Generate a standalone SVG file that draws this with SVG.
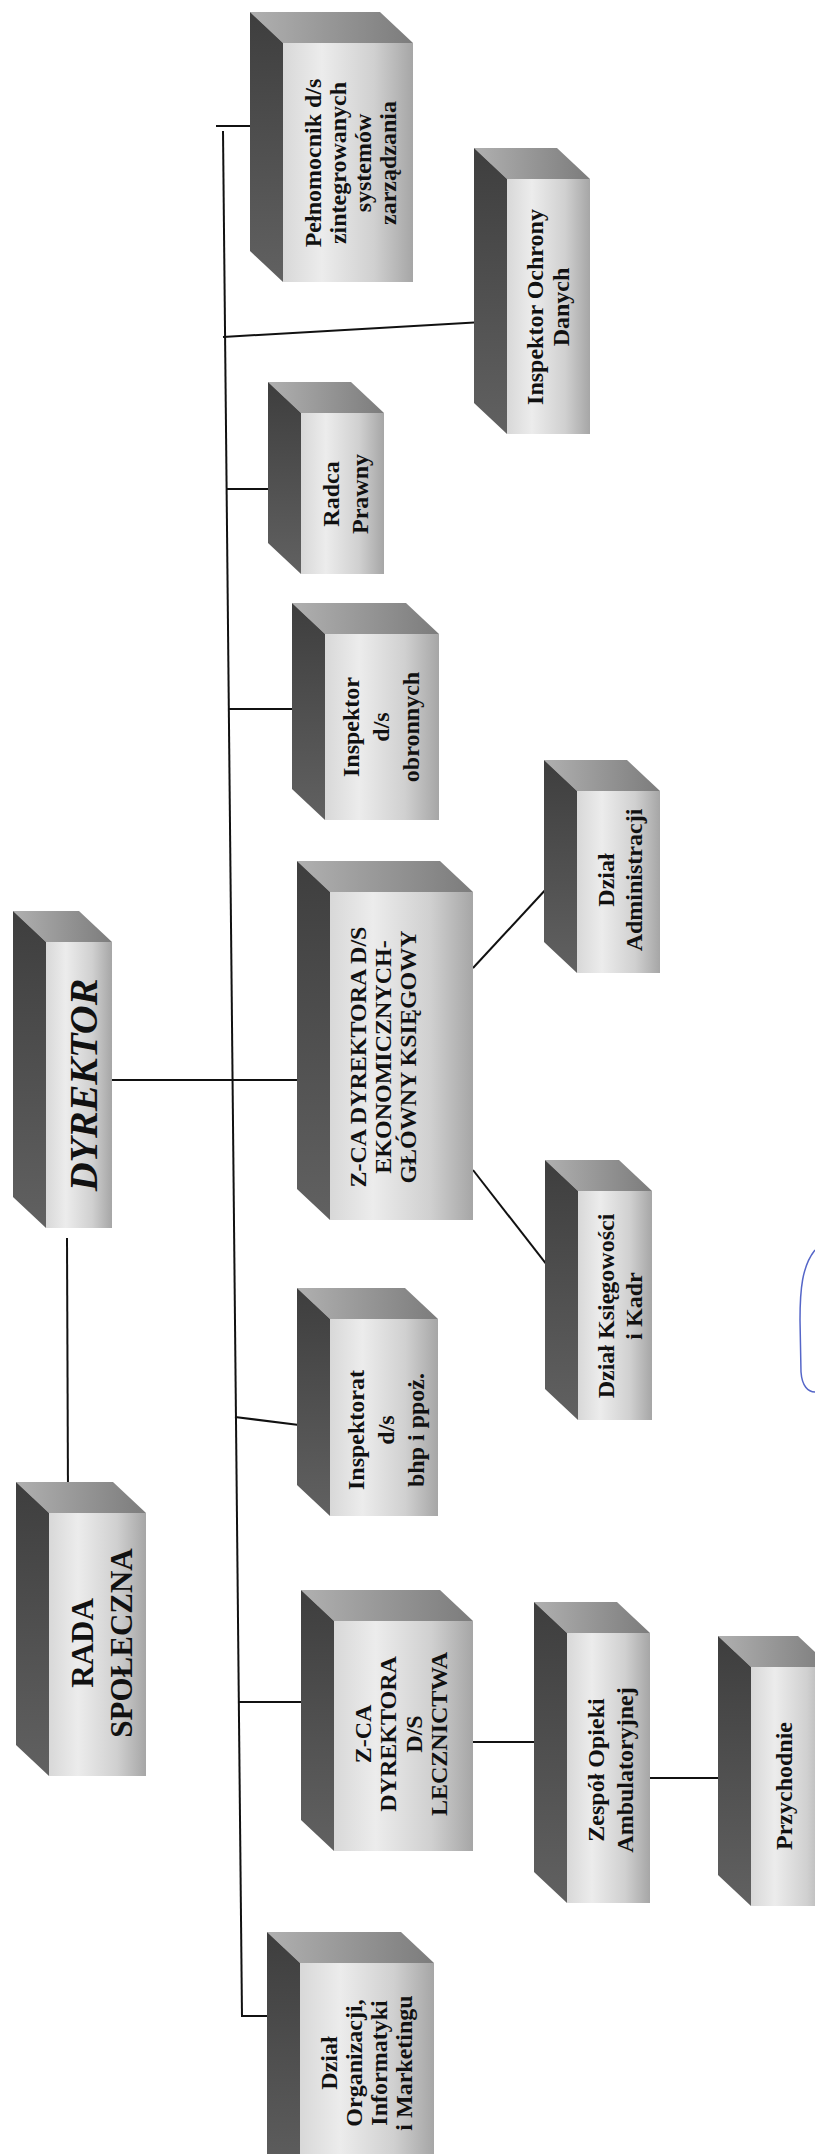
<svg xmlns="http://www.w3.org/2000/svg" width="815" height="2154" viewBox="0 0 815 2154">
<defs>
<linearGradient id="gFront" x1="0" y1="0" x2="1" y2="0">
<stop offset="0" stop-color="#d8d8d8"/>
<stop offset="0.3" stop-color="#ececec"/>
<stop offset="0.7" stop-color="#d0d0d0"/>
<stop offset="1" stop-color="#a6a6a6"/>
</linearGradient>
<linearGradient id="gTop" x1="0" y1="0" x2="1" y2="0">
<stop offset="0" stop-color="#b0b0b0"/>
<stop offset="1" stop-color="#7c7c7c"/>
</linearGradient>
<linearGradient id="gSide" x1="0" y1="0" x2="0" y2="1">
<stop offset="0" stop-color="#3e3e3e"/>
<stop offset="1" stop-color="#616161"/>
</linearGradient>
<style>
.front{fill:url(#gFront)}
.top{fill:url(#gTop)}
.side{fill:url(#gSide)}
.t{font-family:"Liberation Serif","Times New Roman",serif;font-weight:bold;font-size:24px;fill:#111;text-anchor:middle;dominant-baseline:central}
.big{font-size:40px;font-style:italic}
.rada{font-size:31px}
.ln{stroke:#111;stroke-width:2;fill:none}
</style>
</defs>
<rect width="815" height="2154" fill="#ffffff"/>

<g id="connectors">
<line class="ln" x1="223" y1="131" x2="242" y2="2017"/>
<line class="ln" x1="216" y1="126" x2="250" y2="126"/>
<line class="ln" x1="223" y1="337" x2="483" y2="322"/>
<line class="ln" x1="226" y1="489" x2="283" y2="489"/>
<line class="ln" x1="229" y1="709" x2="292" y2="709"/>
<line class="ln" x1="112" y1="1080" x2="299" y2="1080"/>
<line class="ln" x1="473" y1="968" x2="548" y2="887"/>
<line class="ln" x1="473" y1="1170" x2="554" y2="1274"/>
<line class="ln" x1="235" y1="1417" x2="299" y2="1425"/>
<line class="ln" x1="67" y1="1238" x2="68" y2="1498"/>
<line class="ln" x1="239" y1="1702" x2="301" y2="1702"/>
<line class="ln" x1="473" y1="1742" x2="535" y2="1742"/>
<line class="ln" x1="650" y1="1778" x2="720" y2="1778"/>
<line class="ln" x1="242" y1="2016" x2="288" y2="2016"/>
</g>

<g id="pelnomocnik">
<polygon class="top" points="283,43 413,43 380,12 250,12"/>
<polygon class="side" points="283,43 250,12 250,251 283,282"/>
<rect class="front" x="283" y="43" width="130" height="239"/>
<g transform="translate(350,163) rotate(-90)">
<text class="t" x="0" y="-37.5">Pełnomocnik d/s</text>
<text class="t" x="0" y="-12.5">zintegrowanych</text>
<text class="t" x="0" y="12.5">systemów</text>
<text class="t" x="0" y="37.5">zarządzania</text>
</g>
</g>

<g id="inspektor-ochrony">
<polygon class="top" points="507,179 590,179 557,148 474,148"/>
<polygon class="side" points="507,179 474,148 474,403 507,434"/>
<rect class="front" x="507" y="179" width="83" height="255"/>
<g transform="translate(548,307) rotate(-90)">
<text class="t" x="0" y="-13">Inspektor Ochrony</text>
<text class="t" x="0" y="13">Danych</text>
</g>
</g>

<g id="radca">
<polygon class="top" points="301,413 384,413 351,382 268,382"/>
<polygon class="side" points="301,413 268,382 268,543 301,574"/>
<rect class="front" x="301" y="413" width="83" height="161"/>
<g transform="translate(345,494) rotate(-90)">
<text class="t" x="0" y="-14.5">Radca</text>
<text class="t" x="0" y="14.5">Prawny</text>
</g>
</g>

<g id="inspektor-obronnych">
<polygon class="top" points="325,634 439,634 406,603 292,603"/>
<polygon class="side" points="325,634 292,603 292,789 325,820"/>
<rect class="front" x="325" y="634" width="114" height="186"/>
<g transform="translate(381,727) rotate(-90)">
<text class="t" x="0" y="-30">Inspektor</text>
<text class="t" x="0" y="0">d/s</text>
<text class="t" x="0" y="30">obronnych</text>
</g>
</g>

<g id="zca-ekonomicznych">
<polygon class="top" points="330,892 473,892 440,861 297,861"/>
<polygon class="side" points="330,892 297,861 297,1189 330,1220"/>
<rect class="front" x="330" y="892" width="143" height="328"/>
<g transform="translate(383,1057) rotate(-90)">
<text class="t" x="0" y="-25">Z-CA DYREKTORA D/S</text>
<text class="t" x="0" y="0">EKONOMICZNYCH-</text>
<text class="t" x="0" y="25">GŁÓWNY KSIĘGOWY</text>
</g>
</g>

<g id="dyrektor">
<polygon class="top" points="46,942 112,942 79,911 13,911"/>
<polygon class="side" points="46,942 13,911 13,1197 46,1228"/>
<rect class="front" x="46" y="942" width="66" height="286"/>
<g transform="translate(83,1085) rotate(-90)">
<text class="t big" x="0" y="0">DYREKTOR</text>
</g>
</g>

<g id="dzial-administracji">
<polygon class="top" points="577,791 660,791 627,760 544,760"/>
<polygon class="side" points="577,791 544,760 544,942 577,973"/>
<rect class="front" x="577" y="791" width="83" height="182"/>
<g transform="translate(620,880) rotate(-90)">
<text class="t" x="0" y="-14">Dział</text>
<text class="t" x="0" y="14">Administracji</text>
</g>
</g>

<g id="dzial-ksiegowosci">
<polygon class="top" points="578,1191 652,1191 619,1160 545,1160"/>
<polygon class="side" points="578,1191 545,1160 545,1389 578,1420"/>
<rect class="front" x="578" y="1191" width="74" height="229"/>
<g transform="translate(620,1306) rotate(-90)">
<text class="t" x="0" y="-14">Dział Księgowości</text>
<text class="t" x="0" y="14">i Kadr</text>
</g>
</g>

<g id="inspektorat-bhp">
<polygon class="top" points="330,1319 438,1319 405,1288 297,1288"/>
<polygon class="side" points="330,1319 297,1288 297,1485 330,1516"/>
<rect class="front" x="330" y="1319" width="108" height="197"/>
<g transform="translate(386,1430) rotate(-90)">
<text class="t" x="0" y="-30">Inspektorat</text>
<text class="t" x="0" y="0">d/s</text>
<text class="t" x="0" y="30">bhp i ppoż.</text>
</g>
</g>

<g id="rada-spoleczna">
<polygon class="top" points="49,1513 146,1513 113,1482 16,1482"/>
<polygon class="side" points="49,1513 16,1482 16,1745 49,1776"/>
<rect class="front" x="49" y="1513" width="97" height="263"/>
<g transform="translate(102,1643) rotate(-90)">
<text class="t rada" x="0" y="-19.5">RADA</text>
<text class="t rada" x="0" y="19.5">SPOŁECZNA</text>
</g>
</g>

<g id="zca-lecznictwa">
<polygon class="top" points="334,1621 473,1621 440,1590 301,1590"/>
<polygon class="side" points="334,1621 301,1590 301,1820 334,1851"/>
<rect class="front" x="334" y="1621" width="139" height="230"/>
<g transform="translate(401,1734) rotate(-90)">
<text class="t" x="0" y="-38">Z-CA</text>
<text class="t" x="0" y="-13">DYREKTORA</text>
<text class="t" x="0" y="13">D/S</text>
<text class="t" x="0" y="38">LECZNICTWA</text>
</g>
</g>

<g id="zespol-opieki">
<polygon class="top" points="567,1633 650,1633 617,1602 534,1602"/>
<polygon class="side" points="567,1633 534,1602 534,1872 567,1903"/>
<rect class="front" x="567" y="1633" width="83" height="270"/>
<g transform="translate(610,1770) rotate(-90)">
<text class="t" x="0" y="-14.5">Zespół Opieki</text>
<text class="t" x="0" y="14.5">Ambulatoryjnej</text>
</g>
</g>

<g id="przychodnie">
<polygon class="top" points="751,1667 831,1667 798,1636 718,1636"/>
<polygon class="side" points="751,1667 718,1636 718,1875 751,1906"/>
<rect class="front" x="751" y="1667" width="80" height="239"/>
<g transform="translate(784,1786) rotate(-90)">
<text class="t" x="0" y="0">Przychodnie</text>
</g>
</g>

<g id="dzial-organizacji">
<polygon class="top" points="300,1963 434,1963 401,1932 267,1932"/>
<polygon class="side" points="300,1963 267,1932 267,2162 300,2193"/>
<rect class="front" x="300" y="1963" width="134" height="230"/>
<g transform="translate(366,2063) rotate(-90)">
<text class="t" x="0" y="-37.5">Dział</text>
<text class="t" x="0" y="-12.5">Organizacji,</text>
<text class="t" x="0" y="12.5">Informatyki</text>
<text class="t" x="0" y="37.5">i Marketingu</text>
</g>
</g>

<path d="M815,1250 C802,1266 800,1290 800,1320 L801,1372 C802,1386 808,1392 815,1392" fill="none" stroke="#5566c8" stroke-width="1.5"/>
</svg>
